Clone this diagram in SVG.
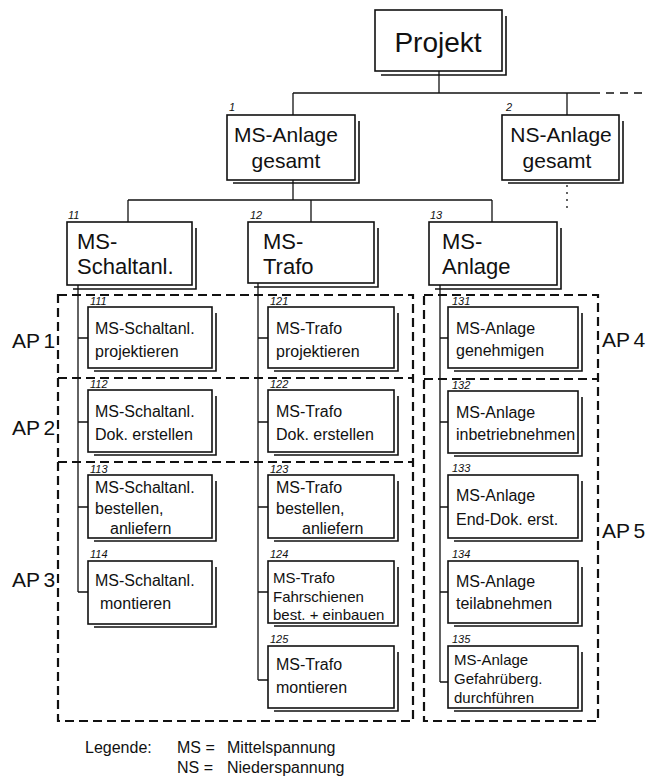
<svg xmlns="http://www.w3.org/2000/svg" width="647" height="782" viewBox="0 0 647 782">
<style>
.box{fill:#fff;stroke:#111;stroke-width:1.6}
.sh{fill:none;stroke:#111;stroke-width:1.6}
.ln{fill:none;stroke:#111;stroke-width:1.3}
.ap{fill:none;stroke:#111;stroke-width:2.2;stroke-dasharray:9 5}
text{font-family:"Liberation Sans",Arial,sans-serif;fill:#111}
.t28{font-size:28px}
.t22{font-size:22px}
.t21{font-size:21px}
.t16{font-size:16px}
.t15{font-size:15px}
.num{font-size:11px;font-style:italic}
.apl{font-size:21px;word-spacing:-2px}
.mid{text-anchor:middle}
</style>
<rect width="647" height="782" fill="#fff"/>

<g id="ap-regions">
<rect class="ap" x="58" y="295" width="355" height="426"/>
<line class="ap" x1="58" y1="378" x2="413" y2="378"/>
<line class="ap" x1="58" y1="462" x2="413" y2="462"/>
<rect class="ap" x="424" y="295" width="174" height="426"/>
<line class="ap" x1="424" y1="379" x2="598" y2="379"/>
</g>

<g id="connectors">
<line class="ln" x1="439" y1="71" x2="439" y2="93"/>
<line class="ln" x1="293" y1="93" x2="600" y2="93"/>
<line class="ln" x1="606" y1="93" x2="647" y2="93" stroke-dasharray="8 6"/>
<line class="ln" x1="293" y1="93" x2="293" y2="115"/>
<line class="ln" x1="567" y1="93" x2="567" y2="115"/>
<line class="ln" x1="567" y1="185" x2="567" y2="209" stroke-dasharray="2 5"/>
<line class="ln" x1="293" y1="180" x2="293" y2="200"/>
<line class="ln" x1="128" y1="200" x2="492" y2="200"/>
<line class="ln" x1="128" y1="200" x2="128" y2="222"/>
<line class="ln" x1="311" y1="200" x2="311" y2="222"/>
<line class="ln" x1="492" y1="200" x2="492" y2="222"/>
<path class="ln" d="M78 285V592M78 338H88M78 422H88M78 507H88M78 592H88"/>
<path class="ln" d="M258 283V680M258 338H268M258 422H268M258 507H268M258 592H268M258 680H268"/>
<path class="ln" d="M440 285V682M440 338H448M440 422H448M440 507H448M440 592H448M440 682H448"/>
</g>

<g id="projekt">
<rect class="box" x="375" y="10" width="127" height="61"/>
<path class="sh" d="M506 16V75H381"/>
<text class="t28 mid" x="438" y="52">Projekt</text>
</g>

<g id="n1">
<rect class="box" x="227" y="115" width="128" height="65"/>
<path class="sh" d="M359 121V183H233"/>
<text class="num" x="229" y="111">1</text>
<text class="t21 mid" x="286" y="142">MS-Anlage</text>
<text class="t21 mid" x="286" y="168">gesamt</text>
</g>

<g id="n2">
<rect class="box" x="502" y="115" width="117" height="65"/>
<path class="sh" d="M623 121V183H508"/>
<text class="num" x="506" y="111">2</text>
<text class="t21 mid" x="561" y="142">NS-Anlage</text>
<text class="t21 mid" x="557" y="168">gesamt</text>
</g>

<g id="n11">
<rect class="box" x="67" y="222" width="125" height="63"/>
<path class="sh" d="M196 228V289H73"/>
<text class="num" x="68" y="219">11</text>
<text class="t22" x="77" y="249">MS-</text>
<text class="t22" x="77" y="274">Schaltanl.</text>
</g>

<g id="n12">
<rect class="box" x="248" y="222" width="126" height="61"/>
<path class="sh" d="M378 228V287H254"/>
<text class="num" x="250" y="219">12</text>
<text class="t22" x="263" y="249">MS-</text>
<text class="t22" x="263" y="274">Trafo</text>
</g>

<g id="n13">
<rect class="box" x="429" y="222" width="128" height="63"/>
<path class="sh" d="M561 228V289H435"/>
<text class="num" x="430" y="219">13</text>
<text class="t22" x="442" y="249">MS-</text>
<text class="t22" x="442" y="274">Anlage</text>
</g>

<g id="n111">
<rect class="box" x="88" y="307" width="124" height="61"/>
<path class="sh" d="M216 313V371H94"/>
<text class="num" x="90" y="305">111</text>
<text class="t16" x="95" y="334">MS-Schaltanl.</text>
<text class="t16" x="95" y="357">projektieren</text>
</g>

<g id="n112">
<rect class="box" x="88" y="390" width="124" height="62"/>
<path class="sh" d="M216 396V455H94"/>
<text class="num" x="90" y="388">112</text>
<text class="t16" x="95" y="417">MS-Schaltanl.</text>
<text class="t16" x="95" y="440">Dok. erstellen</text>
</g>

<g id="n113">
<rect class="box" x="88" y="475" width="124" height="63"/>
<path class="sh" d="M216 481V541H94"/>
<text class="num" x="90" y="473">113</text>
<text class="t16" x="95" y="493">MS-Schaltanl.</text>
<text class="t16" x="95" y="514">bestellen,</text>
<text class="t16" x="110" y="534">anliefern</text>
</g>

<g id="n114">
<rect class="box" x="88" y="561" width="124" height="63"/>
<path class="sh" d="M216 567V627H94"/>
<text class="num" x="90" y="558">114</text>
<text class="t16" x="95" y="586">MS-Schaltanl.</text>
<text class="t16" x="100" y="609">montieren</text>
</g>

<g id="n121">
<rect class="box" x="268" y="307" width="126" height="61"/>
<path class="sh" d="M398 313V371H274"/>
<text class="num" x="270" y="305">121</text>
<text class="t16" x="276" y="334">MS-Trafo</text>
<text class="t16" x="276" y="357">projektieren</text>
</g>

<g id="n122">
<rect class="box" x="268" y="390" width="126" height="62"/>
<path class="sh" d="M398 396V455H274"/>
<text class="num" x="270" y="388">122</text>
<text class="t16" x="276" y="417">MS-Trafo</text>
<text class="t16" x="276" y="440">Dok. erstellen</text>
</g>

<g id="n123">
<rect class="box" x="268" y="475" width="126" height="63"/>
<path class="sh" d="M398 481V541H274"/>
<text class="num" x="270" y="473">123</text>
<text class="t16" x="276" y="493">MS-Trafo</text>
<text class="t16" x="276" y="514">bestellen,</text>
<text class="t16" x="302" y="534">anliefern</text>
</g>

<g id="n124">
<rect class="box" x="268" y="561" width="126" height="62"/>
<path class="sh" d="M398 567V626H274"/>
<text class="num" x="270" y="558">124</text>
<text class="t15" x="273" y="583">MS-Trafo</text>
<text class="t15" x="273" y="602">Fahrschienen</text>
<text class="t15" x="273" y="620">best. + einbauen</text>
</g>

<g id="n125">
<rect class="box" x="268" y="646" width="126" height="62"/>
<path class="sh" d="M398 652V711H274"/>
<text class="num" x="270" y="643">125</text>
<text class="t16" x="276" y="670">MS-Trafo</text>
<text class="t16" x="276" y="693">montieren</text>
</g>

<g id="n131">
<rect class="box" x="448" y="307" width="130" height="61"/>
<path class="sh" d="M582 313V371H454"/>
<text class="num" x="452" y="305">131</text>
<text class="t16" x="456" y="334">MS-Anlage</text>
<text class="t16" x="456" y="356">genehmigen</text>
</g>

<g id="n132">
<rect class="box" x="448" y="391" width="130" height="62"/>
<path class="sh" d="M582 397V456H454"/>
<text class="num" x="452" y="389">132</text>
<text class="t16" x="456" y="418">MS-Anlage</text>
<text class="t16" x="456" y="440">inbetriebnehmen</text>
</g>

<g id="n133">
<rect class="box" x="448" y="475" width="130" height="63"/>
<path class="sh" d="M582 481V541H454"/>
<text class="num" x="452" y="472">133</text>
<text class="t16" x="456" y="501">MS-Anlage</text>
<text class="t16" x="456" y="525">End-Dok. erst.</text>
</g>

<g id="n134">
<rect class="box" x="448" y="561" width="130" height="62"/>
<path class="sh" d="M582 567V626H454"/>
<text class="num" x="452" y="558">134</text>
<text class="t16" x="456" y="587">MS-Anlage</text>
<text class="t16" x="456" y="609">teilabnehmen</text>
</g>

<g id="n135">
<rect class="box" x="448" y="646" width="130" height="62"/>
<path class="sh" d="M582 652V711H454"/>
<text class="num" x="452" y="643">135</text>
<text class="t15" x="454" y="665">MS-Anlage</text>
<text class="t15" x="454" y="684">Gefahrüberg.</text>
<text class="t15" x="454" y="703">durchführen</text>
</g>

<g id="ap-labels">
<text class="apl" x="12" y="348">AP 1</text>
<text class="apl" x="12" y="435">AP 2</text>
<text class="apl" x="12" y="587">AP 3</text>
<text class="apl" x="602" y="347">AP 4</text>
<text class="apl" x="602" y="538">AP 5</text>
</g>

<g id="legend">
<text class="t16" x="85" y="753">Legende:</text>
<text class="t16" x="177" y="753">MS =</text>
<text class="t16" x="227" y="753">Mittelspannung</text>
<text class="t16" x="177" y="773">NS =</text>
<text class="t16" x="227" y="773">Niederspannung</text>
</g>
</svg>
